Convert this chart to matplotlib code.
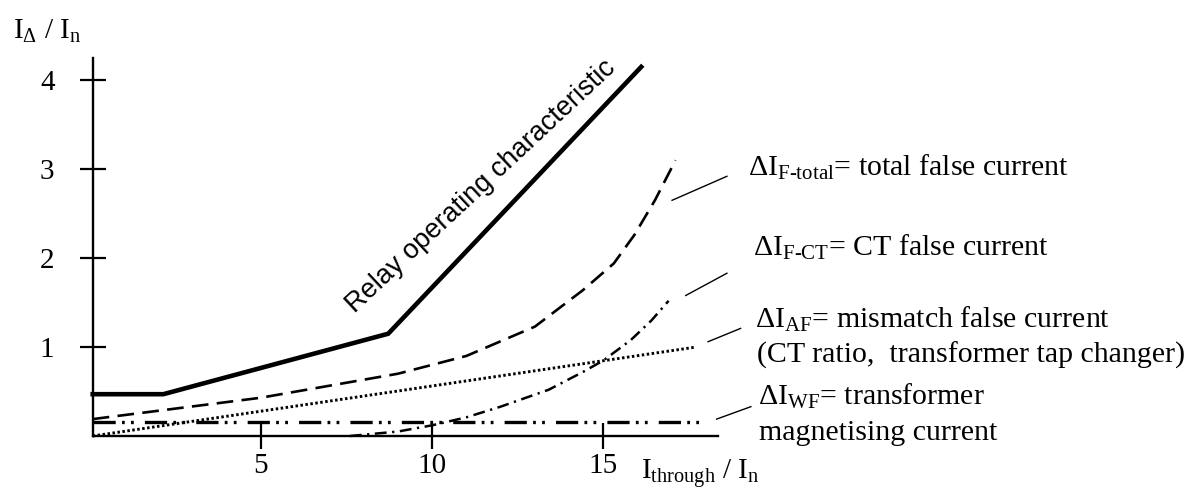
import matplotlib
matplotlib.use("Agg")
import matplotlib.pyplot as plt

plt.rcParams['font.family'] = ['Liberation Serif', 'DejaVu Serif']
plt.rcParams['mathtext.fontset'] = 'custom'
plt.rcParams['mathtext.rm'] = 'Liberation Serif'
plt.rcParams['mathtext.it'] = 'Liberation Serif'
plt.rcParams['lines.scale_dashes'] = False

# Curves (x = I_through / I_n, y = I_delta / I_n)
relay_x = [0.1, 2.16, 8.72, 16.1]
relay_y = [0.47, 0.47, 1.15, 4.15]

total_x = [0.1, 5, 9, 11, 13, 14.4, 15.3, 15.9, 16.5, 17.1]
total_y = [0.19, 0.43, 0.70, 0.90, 1.23, 1.64, 1.94, 2.26, 2.65, 3.10]

ct_x = [7.6, 9, 10, 11, 12, 13.4, 14.4, 15.0, 15.8, 16.4, 16.9]
ct_y = [0.0, 0.05, 0.12, 0.21, 0.33, 0.52, 0.72, 0.85, 1.08, 1.30, 1.52]

af_x = [0.1, 17.7]
af_y = [0.0, 1.0]

wf_x = [0.1, 17.9]
wf_y = [0.16, 0.16]

# Leader lines from curve ends to their labels
leaders = [
    ([17.0, 18.6], [2.65, 2.92]),
    ([17.4, 18.6], [1.58, 1.83]),
    ([18.05, 19.0], [1.06, 1.21]),
    ([18.3, 19.3], [0.19, 0.33]),
]

labels = [
    (19.21, 2.93, "ΔI$_{\\mathrm{F\\text{-}total}}$= total false current"),
    (19.36, 2.03, "ΔI$_{\\mathrm{F\\text{-}CT}}$= CT false current"),
    (19.42, 1.22, "ΔI$_{\\mathrm{AF}}$= mismatch false current"),
    (19.48, 0.82, "(CT ratio,  transformer tap changer)"),
    (19.50, 0.35, "ΔI$_{\\mathrm{WF}}$= transformer"),
    (19.53, -0.045, "magnetising current"),
]

x_ticks = [5, 10, 15]
y_ticks = [1, 2, 3, 4]

fig = plt.figure(figsize=(11.88, 4.93), dpi=100)
ax = fig.add_axes([92.7 / 1188, 57 / 493, (718 - 92.7) / 1188, (436 - 58) / 493])
ax.set_xlim(0.1, 18.34)
ax.set_ylim(0, 4.25)

# Axes styling
for side in ["top", "right"]:
    ax.spines[side].set_visible(False)
for side in ["left", "bottom"]:
    ax.spines[side].set_linewidth(1.7)
ax.set_xticks(x_ticks)
ax.set_yticks(y_ticks)
ax.tick_params(axis="both", direction="inout", length=19, width=1.6, labelsize=21)
ax.tick_params(axis="x", pad=3)
ax.tick_params(axis="y", pad=18)

# Curves
ax.plot(relay_x, relay_y, color="black", lw=3.3, solid_joinstyle="miter", clip_on=False)
ax.plot(total_x, total_y, color="black", lw=1.9, dashes=[12, 6], clip_on=False)
ax.plot(ct_x, ct_y, color="black", lw=1.8, dashes=[8.5, 4, 1.6, 4], clip_on=False)
ax.plot(af_x, af_y, color="black", lw=2.1, dashes=[1.8, 1.8], clip_on=False)
ax.plot(wf_x, wf_y, color="black", lw=2.4, dashes=[16, 4.5, 2, 4.5, 2, 8], clip_on=False)

for lx, ly in leaders:
    ax.plot(lx, ly, color="black", lw=1.0, clip_on=False)

for tx, ty, txt in labels:
    ax.text(tx, ty, txt, fontsize=21.5, ha="left", va="baseline", clip_on=False)

# Axis titles
ax.text(-2.22, 4.47, "I$_{\\mathrm{Δ}}$ / I$_{\\mathrm{n}}$", fontsize=21,
        ha="left", va="baseline", clip_on=False)
ax.text(16.1, -0.48, "I$_{\\mathrm{through}}$ / I$_{\\mathrm{n}}$", fontsize=21,
        ha="left", va="baseline", clip_on=False)

# Label along the relay characteristic
ax.text(7.76, 1.38, "Relay operating characteristic", family="Liberation Sans",
        fontsize=19.5, rotation=43, rotation_mode="anchor", ha="left", va="baseline")

fig.savefig("out.png", dpi=100)
